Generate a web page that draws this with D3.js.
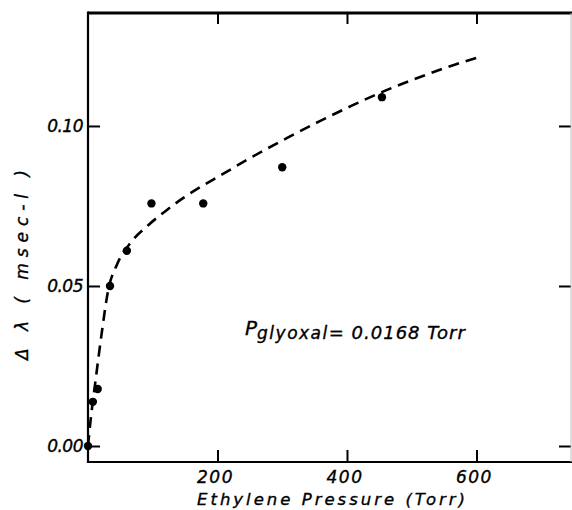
<!DOCTYPE html>
<html>
<head>
<meta charset="utf-8">
<script src="https://cdn.jsdelivr.net/npm/d3@7"></script>
<style>
  body { margin: 0; background: #fff; }
  svg { display: block; }
  text { font-family: "DejaVu Sans", sans-serif; font-style: oblique; fill: #000; stroke: #000; stroke-width: 0.35; }
</style>
</head>
<body>
<div id="chart"></div>
<script>
// measured points: ethylene pressure (Torr) vs delta lambda (msec-1)
var pressure = [0, 7.5, 15, 34, 60, 98, 178, 300, 454];
var deltaLambda = [0.000, 0.0138, 0.0178, 0.050, 0.061, 0.0758, 0.0758, 0.0871, 0.109];

// dashed fitted curve
var fitPressure = [0, 4, 12, 21, 31, 45, 67, 93, 119, 145, 170, 204, 255, 307, 358, 409, 461, 513, 564, 601];
var fitLambda = [0.000, 0.008, 0.021, 0.035, 0.0485, 0.0568, 0.0638, 0.0690, 0.0733, 0.0772, 0.0805, 0.0845, 0.0905, 0.0962, 0.1015, 0.1065, 0.1112, 0.1153, 0.1190, 0.1213];

var xTicks = [200, 400, 600];
var yTicks = [0.00, 0.05, 0.10];
var yTickLabels = ["0.00", "0.05", "0.10"];

var width = 572, height = 510;
// note: "top" is taken by window.top, so plot edges get their own names
var plotLeft = 88, plotRight = 571, plotTop = 13, plotBottom = 462;

var svg = d3.select("#chart").append("svg")
    .attr("width", width)
    .attr("height", height);

var x = d3.scaleLinear().domain([0, 746]).range([plotLeft, plotRight]);
var y = d3.scaleLinear().domain([-0.005, 0.1353]).range([plotBottom, plotTop]);

// axes with inward ticks
var gBottom = svg.append("g").attr("transform", "translate(0," + plotBottom + ")")
    .call(d3.axisBottom(x).tickValues(xTicks).tickSize(-12).tickFormat(""));
var gTop = svg.append("g").attr("transform", "translate(0," + plotTop + ")")
    .call(d3.axisTop(x).tickValues(xTicks).tickSize(-11).tickFormat(""));
var gLeft = svg.append("g").attr("transform", "translate(" + plotLeft + ",0)")
    .call(d3.axisLeft(y).tickValues(yTicks).tickSize(-12).tickFormat(""));
var gRight = svg.append("g").attr("transform", "translate(" + plotRight + ",0)")
    .call(d3.axisRight(y).tickValues(yTicks).tickSize(-12).tickFormat(""));

[gBottom, gTop, gLeft, gRight].forEach(function(g) {
    g.select(".domain").remove();
    g.selectAll(".tick line").attr("stroke", "#000").attr("stroke-width", 2);
});

// frame
svg.append("line").attr("x1", plotLeft).attr("x2", width).attr("y1", plotTop).attr("y2", plotTop)
    .attr("stroke", "#000").attr("stroke-width", 3);
svg.append("line").attr("x1", plotLeft).attr("x2", width).attr("y1", plotBottom).attr("y2", plotBottom)
    .attr("stroke", "#000").attr("stroke-width", 2);
svg.append("line").attr("x1", plotLeft).attr("x2", plotLeft).attr("y1", plotTop - 1.5).attr("y2", plotBottom + 1)
    .attr("stroke", "#000").attr("stroke-width", 2.2);
svg.append("line").attr("x1", plotRight).attr("x2", plotRight).attr("y1", plotTop).attr("y2", plotBottom)
    .attr("stroke", "#bbb").attr("stroke-width", 1);

// tick labels
svg.selectAll(".xlab").data(xTicks).enter().append("text")
    .attr("class", "xlab")
    .attr("x", function(d) { return x(d) - 2; })
    .attr("y", plotBottom + 21)
    .attr("text-anchor", "middle")
    .attr("font-size", 17)
    .attr("letter-spacing", 1.5)
    .text(function(d) { return d; });

svg.selectAll(".ylab").data(yTicks).enter().append("text")
    .attr("class", "ylab")
    .attr("x", plotLeft - 5)
    .attr("y", function(d) { return y(d) + 6.5; })
    .attr("text-anchor", "end")
    .attr("font-size", 17)
    .attr("letter-spacing", -0.5)
    .text(function(d, i) { return yTickLabels[i]; });

// axis titles
svg.append("text")
    .attr("x", 197)
    .attr("y", 505)
    .attr("font-size", 16.5)
    .attr("textLength", 268)
    .attr("lengthAdjust", "spacing")
    .text("Ethylene  Pressure  (Torr)");

svg.append("text")
    .attr("transform", "translate(28,265) rotate(-90)")
    .attr("text-anchor", "middle")
    .attr("font-size", 17)
    .attr("textLength", 190)
    .attr("lengthAdjust", "spacing")
    .text("Δ λ  ( msec-l )");

// annotation
var ann = svg.append("text").attr("x", 245).attr("y", 335);
ann.append("tspan").attr("font-size", 20).text("P");
ann.append("tspan").attr("font-size", 17).attr("dy", 3.5).attr("letter-spacing", 1.5).text("glyoxal");
ann.append("tspan").attr("font-size", 18).attr("letter-spacing", 1).text("= 0.0168  Torr");

// dashed fit curve
var line = d3.line()
    .x(function(d, i) { return x(fitPressure[i]); })
    .y(function(d, i) { return y(fitLambda[i]); })
    .curve(d3.curveMonotoneX);

svg.append("path")
    .datum(fitPressure)
    .attr("d", line)
    .attr("fill", "none")
    .attr("stroke", "#000")
    .attr("stroke-width", 2.6)
    .attr("stroke-dasharray", "11,7");

// data points
svg.selectAll(".pt").data(pressure).enter().append("circle")
    .attr("class", "pt")
    .attr("cx", function(d) { return x(d); })
    .attr("cy", function(d, i) { return y(deltaLambda[i]); })
    .attr("r", 4.2)
    .attr("fill", "#000");
</script>
</body>
</html>
